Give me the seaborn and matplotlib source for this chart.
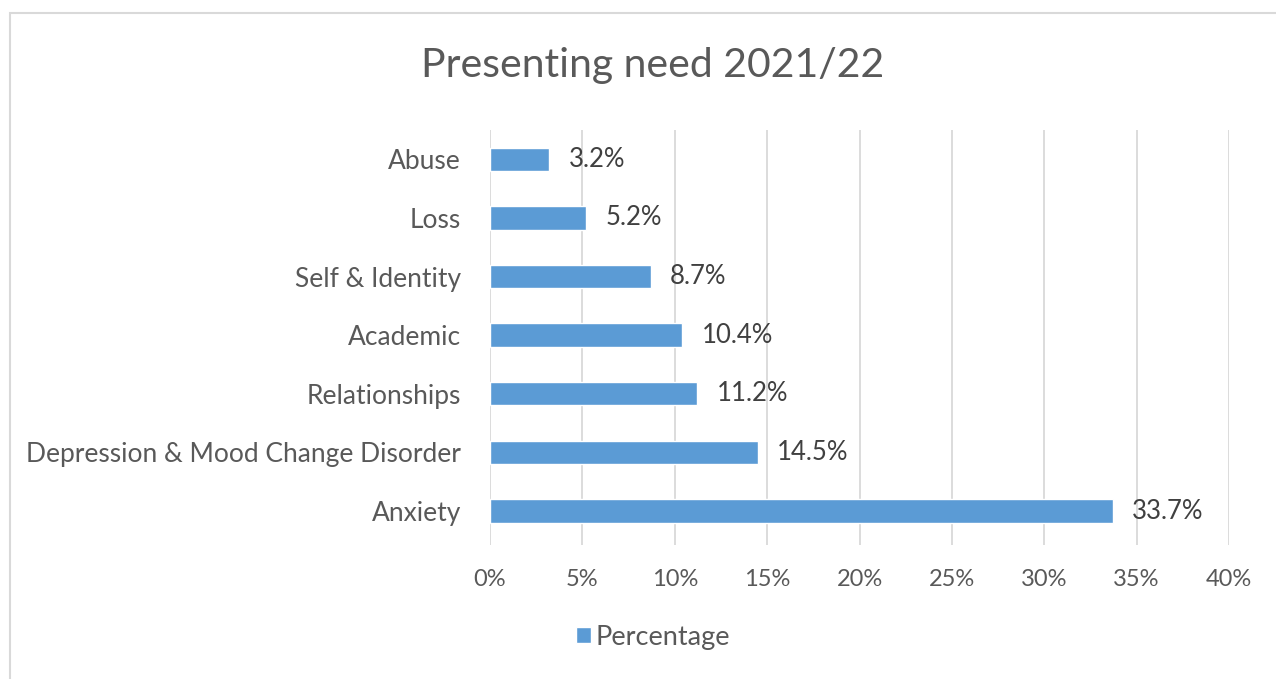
import matplotlib
matplotlib.use("Agg")
import matplotlib.pyplot as plt
from matplotlib.patches import Rectangle
from matplotlib.ticker import PercentFormatter
import seaborn as sns
import pandas as pd

# Presenting needs and their share of cases
needs = ["Abuse", "Loss", "Self & Identity", "Academic", "Relationships",
         "Depression & Mood Change Disorder", "Anxiety"]
percentages = [3.2, 5.2, 8.7, 10.4, 11.2, 14.5, 33.7]
x_ticks = [0, 5, 10, 15, 20, 25, 30, 35, 40]

title = "Presenting need 2021/22"
series_name = "Percentage"

BAR = "#5B9BD5"
GRID = "#D9D9D9"
TEXT = "#595959"
LABEL = "#404040"

sns.set_theme(style="white")
plt.rcParams["font.family"] = ["Lato", "DejaVu Sans"]

df = pd.DataFrame({"need": needs, "pct": percentages, "series": series_name})

fig = plt.figure(figsize=(12.76, 6.79), dpi=100)
ax = fig.add_axes([490 / 1276, 1 - 545 / 679, (1229 - 490) / 1276, (545 - 130) / 679])

sns.barplot(data=df, x="pct", y="need", hue="series", palette=[BAR],
            saturation=1, orient="h", width=0.4, ax=ax, legend=True)

ax.set_xlim(0, 40)
ax.set_ylim(len(needs) - 0.5 + 0.08, -0.5)
ax.set_xticks(x_ticks)
ax.xaxis.set_major_formatter(PercentFormatter(decimals=0))
ax.grid(axis="x", color=GRID, linewidth=1.3)
ax.grid(axis="y", visible=False)
ax.set_axisbelow(True)
for s in ax.spines.values():
    s.set_visible(False)
ax.set_xlabel("")
ax.set_ylabel("")
ax.tick_params(axis="x", length=0, pad=17, labelsize=17, labelcolor=TEXT)
ax.tick_params(axis="y", length=0, pad=21, labelsize=19, labelcolor=TEXT)
for lbl in ax.get_yticklabels():
    lbl.set_va("center_baseline")

for cont in ax.containers:
    ax.bar_label(cont, labels=[f"{v:.1f}%" for v in percentages],
                 padding=14, fontsize=18.5, color=LABEL)

leg = ax.legend(loc="center", bbox_to_anchor=(653 / 1276, 1 - 637 / 679),
                bbox_transform=fig.transFigure, frameon=False, fontsize=19.5,
                handlelength=0.55, handleheight=0.55, handletextpad=0.15)
for t in leg.get_texts():
    t.set_color(TEXT)

fig.text(653 / 1276, 1 - 65 / 679, title, ha="center", va="center",
         fontsize=29.5, color=TEXT)

# Chart frame
fig.patches.append(Rectangle((10 / 1276, -0.01), 1.2, 1 - 13 / 679 + 0.01,
                             transform=fig.transFigure, fill=False,
                             edgecolor=GRID, linewidth=1.5))

fig.savefig("out.png", dpi=100)
